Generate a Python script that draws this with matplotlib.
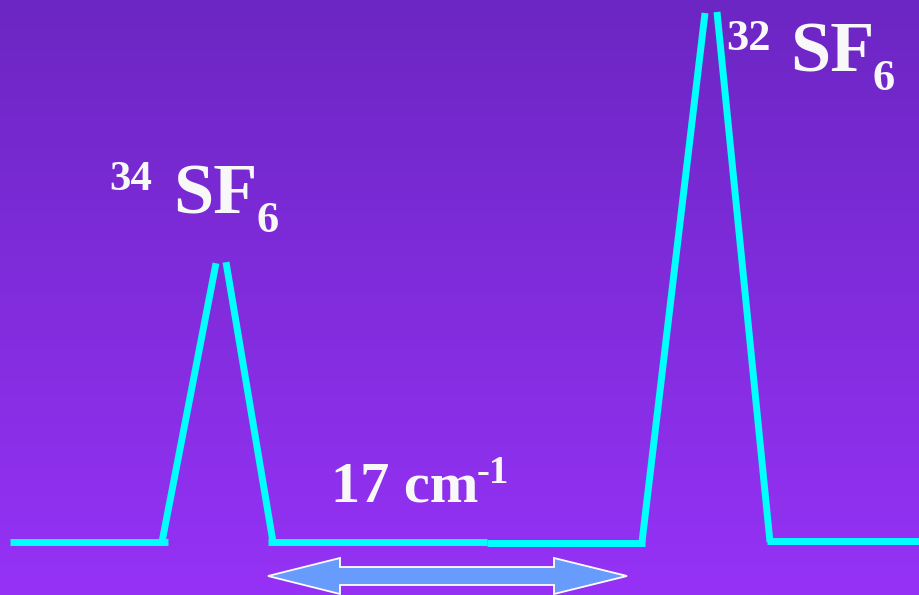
import numpy as np
import matplotlib
matplotlib.use("Agg")
import matplotlib.pyplot as plt
from matplotlib.patches import Polygon

W, H = 919, 595

# Spectrum segments (x in pixel-like wavenumber axis, intensity normalised to 100)
seg_x = [
    [10, 168],    # baseline left
    [162, 216],   # 34SF6 rise
    [226, 273],   # 34SF6 fall
    [268, 487],   # baseline middle a
    [487, 645],   # baseline middle b
    [642, 705],   # 32SF6 rise
    [717, 770],   # 32SF6 fall
    [767, 919],   # baseline right
]
seg_y = [
    [0.0, 0.0],
    [0.0, 52.7],
    [52.9, 0.0],
    [0.0, 0.0],
    [-0.15, -0.15],
    [0.0, 100.0],
    [100.2, 0.0],
    [0.2, 0.2],
]

# Separation arrow (x extent)
arrow_x = [268, 627]

fig = plt.figure(figsize=(W / 100, H / 100), dpi=100)

# background gradient
bg = fig.add_axes([0, 0, 1, 1])
top = np.array([0x6c, 0x26, 0xc3]) / 255
bot = np.array([0x96, 0x32, 0xf6]) / 255
t = np.linspace(0, 1, 256)[:, None]
grad = top[None, :] * (1 - t) + bot[None, :] * t
bg.imshow(grad[:, None, :].repeat(2, axis=1), aspect="auto", extent=[0, W, H, 0])
bg.set_xlim(0, W)
bg.set_ylim(H, 0)
bg.axis("off")

# spectrum axes: baseline at pixel y 542, 100 -> pixel y 13
scale = (542 - 13) / 100.0
ax = fig.add_axes([0, 0, 1, 1])
ax.patch.set_alpha(0)
ax.set_xlim(0, W)
ax.set_ylim(-(H - 542) / scale, 542 / scale)
ax.axis("off")
for xs, ys in zip(seg_x, seg_y):
    ax.plot(xs, ys, color="#00ffff", lw=5.0, solid_capstyle="butt")

# overlay in pixel coords for arrow and labels
ov = fig.add_axes([0, 0, 1, 1])
ov.patch.set_alpha(0)
ov.set_xlim(0, W)
ov.set_ylim(H, 0)
ov.axis("off")
cy = 576
hh, sh, hl = 18, 9, 72
x0, x1 = arrow_x
poly = [
    (x0, cy), (x0 + hl, cy - hh), (x0 + hl, cy - sh), (x1 - hl - 1, cy - sh),
    (x1 - hl - 1, cy - hh), (x1, cy), (x1 - hl - 1, cy + hh), (x1 - hl - 1, cy + sh),
    (x0 + hl, cy + sh), (x0 + hl, cy + hh),
]
ov.add_patch(Polygon(poly, closed=True, facecolor="#689cfc", edgecolor="white", lw=1.3))

font = dict(family="Liberation Serif", weight="bold", color="#f8f8f8",
            ha="left", va="baseline")

def txt(x, y, s, size):
    ov.text(x, y, s, fontsize=size, **font)

# 34SF6 label
txt(109, 190, "34", 31)
txt(173, 213, "SF", 52)
txt(256, 232, "6", 32)
# 32SF6 label
txt(726, 50, "32", 32)
txt(790, 72, "SF", 52)
txt(873, 90, "6", 32)
# separation label
txt(331, 502, "17 cm", 42)
txt(477, 483, "-1", 28)

fig.savefig("out.png", dpi=100)
